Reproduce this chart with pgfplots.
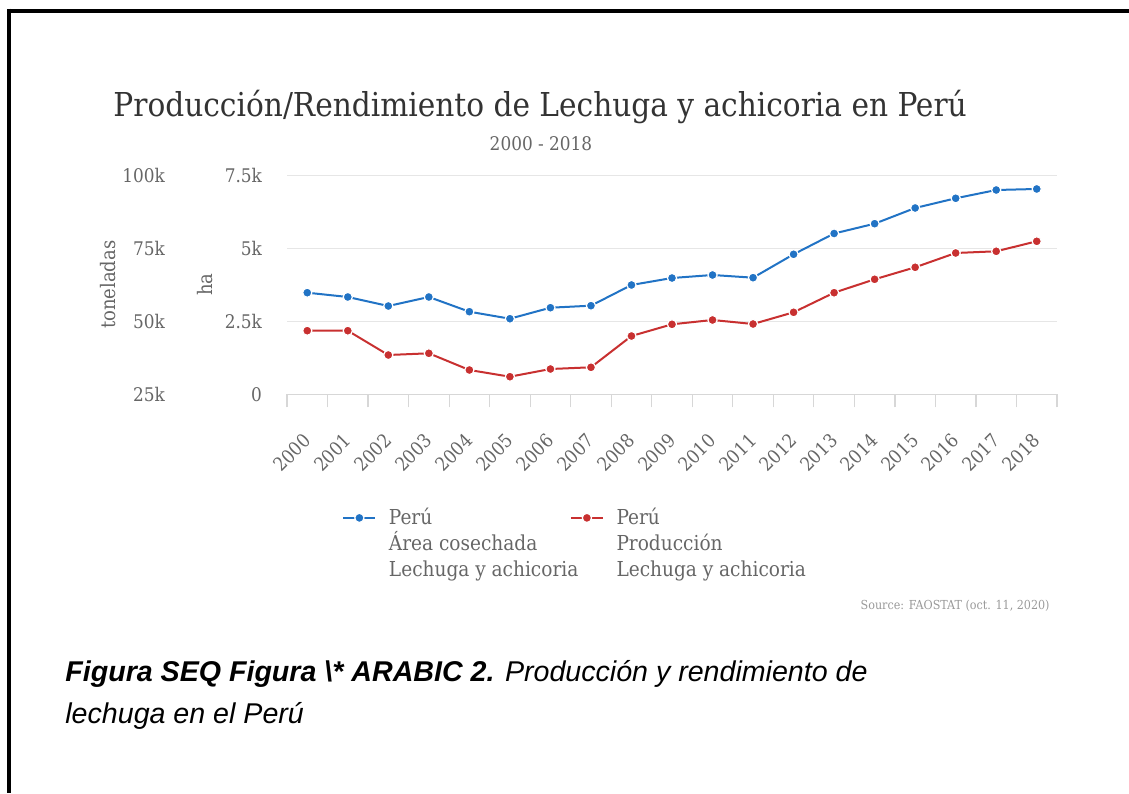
\documentclass[border=0pt]{standalone}
\usepackage{fontspec}
\setmainfont{DejaVu Serif Condensed}
\newfontfamily\capfont{Liberation Sans}
\usepackage{pgfplots}
\pgfplotsset{compat=1.18}
\definecolor{cblue}{RGB}{33,115,197}
\definecolor{cred}{RGB}{200,48,48}
\definecolor{tickc}{RGB}{102,102,102}
\definecolor{gridc}{RGB}{230,230,230}
\definecolor{axisc}{RGB}{215,215,215}
\definecolor{titlec}{RGB}{51,51,51}
\definecolor{srcc}{RGB}{153,153,153}

\pgfplotsset{
  bluestyle/.style={cblue, line width=1pt, mark=*, mark size=2.3pt, mark options={fill=cblue, draw=white, line width=0.6pt}},
  redstyle/.style={cred, line width=1pt, mark=*, mark size=2.3pt, mark options={fill=cred, draw=white, line width=0.6pt}},
}

\begin{document}
\begin{tikzpicture}[x=0.5pt,y=-0.5pt]
\path[use as bounding box] (0,0) rectangle (1129,793);
\draw[line width=2pt] (7,10.5)--(1129,10.5);
\draw[line width=2.3pt] (9,8.5)--(9,793);

\begin{axis}[
  at={(143.5pt,-197.15pt)}, anchor=south west,
  scale only axis, width=385pt, height=109.5pt,
  xmin=-0.5, xmax=18.5, ymin=0, ymax=7500,
  scaled y ticks=false,
  axis x line*=bottom, axis y line*=left,
  y axis line style={draw=none},
  x axis line style={draw=axisc, line width=0.6pt},
  ymajorgrids, grid style={draw=gridc, line width=0.6pt},
  ytick={0,2500,5000,7500}, yticklabels={0,2.5k,5k,7.5k},
  ytick style={draw=none},
  xtick={0,...,18},
  xticklabels={2000,2001,2002,2003,2004,2005,2006,2007,2008,2009,2010,2011,2012,2013,2014,2015,2016,2017,2018},
  major tick length=0pt,
  minor xtick={-0.5,0.5,...,18.5},
  minor tick length=6.5pt, tick align=outside,
  minor x tick style={draw=axisc, line width=0.6pt},
  xticklabel style={xshift=2.4pt, yshift=-19.1pt, rotate=45, anchor=east, font=\fontsize{9.4pt}{11pt}\selectfont, text=tickc},
  yticklabel style={font=\fontsize{9.4pt}{11pt}\selectfont, text=tickc, xshift=-9pt},
  ylabel={ha},
  ylabel style={at={(axis description cs:-0.1065,0.5)}, anchor=center, font=\fontsize{10pt}{12pt}\selectfont, text=tickc},
  clip=false,
]
\addplot[bluestyle] coordinates {
(0,3480) (1,3333) (2,3024) (3,3333) (4,2829) (5,2589) (6,2966) (7,3035) (8,3744) (9,3983)
(10,4086) (11,3994) (12,4795) (13,5507) (14,5843) (15,6381) (16,6713) (17,6997) (18,7032)
};
\end{axis}

\begin{axis}[
  at={(143.5pt,-197.15pt)}, anchor=south west,
  scale only axis, width=385pt, height=109.5pt,
  xmin=-0.5, xmax=18.5, ymin=25000, ymax=100000,
  scaled y ticks=false,
  hide x axis,
  axis y line*=left,
  y axis line style={draw=none},
  ytick={25000,50000,75000,100000}, yticklabels={25k,50k,75k,100k},
  ytick style={draw=none}, major tick length=0pt,
  yticklabel style={font=\fontsize{9.4pt}{11pt}\selectfont, text=tickc, xshift=-57.5pt},
  ylabel={toneladas},
  ylabel style={at={(axis description cs:-0.2325,0.5)}, anchor=center, font=\fontsize{10pt}{12pt}\selectfont, text=tickc},
  clip=false,
  legend columns=2,
  legend cell align=left,
  legend image code/.code={
    \draw[#1, mark repeat=2, mark phase=2] plot coordinates {(0pt,29.4pt) (8pt,29.4pt) (16pt,29.4pt)};
  },
  legend style={at={(axis description cs:0.0714,-0.50)}, anchor=north west, draw=none, fill=none, inner sep=0pt,
    font=\fontsize{10.3pt}{13pt}\selectfont, text=tickc,
    cells={align=left, anchor=base west},
    /tikz/every odd column/.append style={column sep=4.3pt},
    /tikz/every even column/.append style={column sep=-6.2pt}},
]
\addlegendimage{bluestyle}
\addlegendentry{Perú\\Área cosechada\\Lechuga y achicoria}
\addplot[redstyle] coordinates {
(0,46783) (1,46783) (2,38460) (3,39043) (4,33323) (5,31028) (6,33665) (7,34248) (8,44968) (9,48975)
(10,50448) (11,49078) (12,53085) (13,59798) (14,64388) (15,68498) (16,73395) (17,73978) (18,77403)
};
\addlegendentry{Perú\\Producción\\Lechuga y achicoria}
\end{axis}

\node[anchor=base, font=\fontsize{16.46pt}{19pt}\selectfont, text=titlec, inner sep=0pt] at (540,116.7) {Producción/Rendimiento de Lechuga y achicoria en Perú};
\node[anchor=base, font=\fontsize{9.4pt}{11pt}\selectfont, text=tickc, inner sep=0pt] at (541,150.5) {2000 - 2018};
\node[anchor=base east, font=\fontsize{6.2pt}{7pt}\selectfont, text=srcc, inner sep=0pt] at (1050,609) {Source: FAOSTAT (oct. 11, 2020)};
\node[anchor=base west, font=\capfont\fontsize{14.3pt}{18pt}\selectfont, inner sep=0pt] at (65,681) {\textbf{\textit{Figura SEQ Figura \textbackslash* ARABIC 2.}}\textit{ Producción y rendimiento de}};
\node[anchor=base west, font=\capfont\fontsize{14.3pt}{18pt}\selectfont, inner sep=0pt] at (65,723) {\textit{lechuga en el Perú}};
\end{tikzpicture}
\end{document}
